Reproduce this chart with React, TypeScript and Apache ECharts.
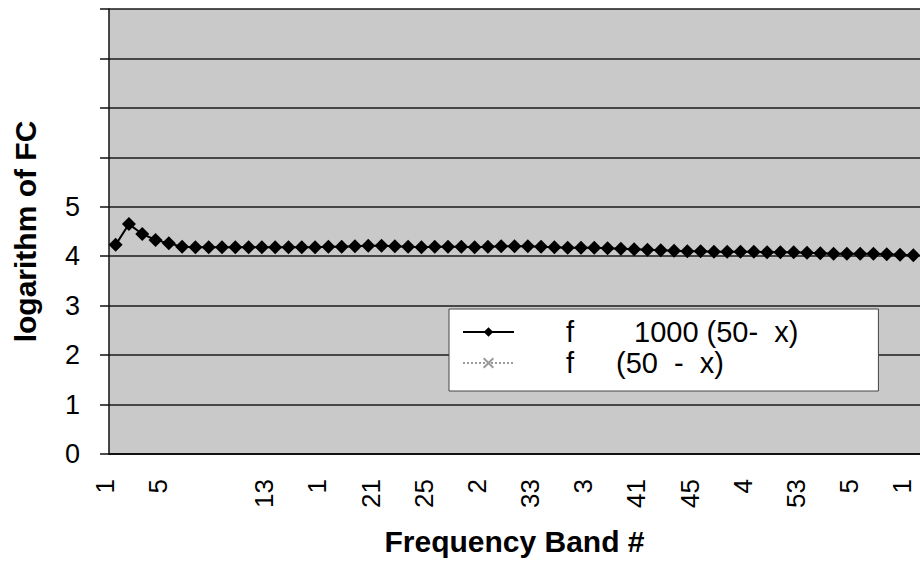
import { useEffect, useRef } from "react";
import * as echarts from "echarts";

// ---- data ----
const CATEGORIES: string[] = Array.from({ length: 61 }, (_, i) => String(i + 1));
// tick texts as they appear (every 4th band)
const TICK_TEXT: string[] = ["1", "5", "", "13", "1", "21", "25", "2", "33", "3", "41", "45", "4", "53", "5", "1"];
const Y_LABELS: string[] = ["0", "1", "2", "3", "4", "5"];

const LEGEND_F: string[] = ["f", "f"];
const LEGEND_EXPR: string[] = ["1000 (50-  x)", "(50  -  x)"];
const SERIES_NAMES: string[] = ["f 1000 (50-  x)", "f (50  -  x)"];

const SERIES_1000: number[] = [
  4.23, 4.65, 4.45, 4.33, 4.26, 4.19, 4.18, 4.18, 4.18, 4.18,
  4.18, 4.18, 4.18, 4.18, 4.18, 4.18, 4.19, 4.19, 4.2, 4.21,
  4.21, 4.2, 4.19, 4.18, 4.19, 4.19, 4.19, 4.18, 4.19, 4.2,
  4.2, 4.2, 4.19, 4.18, 4.17, 4.17, 4.17, 4.16, 4.15, 4.14,
  4.13, 4.12, 4.11, 4.1, 4.1, 4.09, 4.09, 4.09, 4.09, 4.08,
  4.08, 4.08, 4.07, 4.06, 4.05, 4.05, 4.05, 4.05, 4.04, 4.03,
  4.02,
];
const SERIES_PLAIN: (number | null)[] = [];

const FONT = "'Liberation Sans', Arial, sans-serif";

export default function App() {
  const ref = useRef<HTMLDivElement>(null);
  useEffect(() => {
    if (!ref.current) return;
    const chart = echarts.init(ref.current, null, { renderer: "svg" });
    chart.setOption({
      animation: false,
      backgroundColor: "#ffffff",
      textStyle: { fontFamily: FONT, color: "#000" },
      grid: {
        left: 109,
        top: 9,
        width: 817,
        height: 445,
        show: true,
        backgroundColor: "#c9c9c9",
        borderWidth: 0,
      },
      legend: {
        orient: "vertical",
        left: 449,
        top: 309,
        padding: [7.5, 80, 12.5, 13],
        backgroundColor: "#ffffff",
        borderColor: "#444",
        borderWidth: 1,
        itemWidth: 51,
        itemHeight: 12,
        itemGap: 0,
        data: SERIES_NAMES,
        formatter: (name: string) => {
          const i = SERIES_NAMES.indexOf(name);
          return `{f${i}|${LEGEND_F[i]}}{e|${LEGEND_EXPR[i]}}`;
        },
        textStyle: {
          fontFamily: FONT,
          fontSize: 29,
          lineHeight: 31,
          color: "#000",
          rich: {
            f0: { fontSize: 29, lineHeight: 31, width: 68, padding: [0, 0, 0, 47], fontFamily: FONT },
            f1: { fontSize: 29, lineHeight: 31, width: 50, padding: [0, 0, 0, 47], fontFamily: FONT },
            e: { fontSize: 29, lineHeight: 31, fontFamily: FONT },
          },
        },
      },
      xAxis: {
        type: "category",
        data: CATEGORIES,
        boundaryGap: true,
        name: "Frequency Band #",
        nameLocation: "middle",
        nameGap: 72,
        nameTextStyle: { fontFamily: FONT, fontSize: 30, fontWeight: "bold", color: "#000" },
        axisLine: { show: true, lineStyle: { color: "#111", width: 2 } },
        axisTick: { show: false },
        splitLine: { show: false },
        axisLabel: {
          interval: 3,
          rotate: 90,
          margin: 25,
          fontFamily: FONT,
          fontSize: 26,
          color: "#000",
          verticalAlign: "bottom",
          lineHeight: 22,
          formatter: (_v: string, idx: number) => {
            const t = TICK_TEXT[Math.round(idx / 4)];
            return t ?? "";
          },
        },
      },
      yAxis: {
        type: "value",
        min: 0,
        max: 9,
        interval: 1,
        name: "logarithm of FC",
        nameLocation: "middle",
        nameGap: 69,
        nameRotate: 90,
        nameTextStyle: { fontFamily: FONT, fontSize: 30, fontWeight: "bold", color: "#000" },
        axisLine: { show: true, lineStyle: { color: "#111", width: 1.5 } },
        axisTick: { show: true, length: 9, lineStyle: { color: "#111", width: 1.5 } },
        splitLine: { show: true, lineStyle: { color: "#1a1a1a", width: 1.5 } },
        axisLabel: {
          margin: 29,
          fontFamily: FONT,
          fontSize: 27,
          color: "#000",
          padding: [0, 0, 6, 0],
          formatter: (v: number) => (v < Y_LABELS.length ? Y_LABELS[v] : ""),
        },
      },
      series: [
        {
          name: SERIES_NAMES[0],
          type: "line",
          data: SERIES_1000,
          symbol: "diamond",
          symbolSize: 14,
          showAllSymbol: true,
          lineStyle: { color: "#000", width: 2 },
          itemStyle: { color: "#000" },
        },
        {
          name: SERIES_NAMES[1],
          type: "line",
          data: SERIES_PLAIN,
          symbol: "path://M0,0L10,10M10,0L0,10",
          symbolSize: 8,
          lineStyle: { color: "#9a9a9a", width: 1.5, type: "dotted" },
          itemStyle: { color: "transparent", borderColor: "#9a9a9a", borderWidth: 1 },
        },
      ],
    });
    return () => chart.dispose();
  }, []);
  return (
    <div
      ref={ref}
      style={{ position: "absolute", left: 0, top: 0, width: 920, height: 565, background: "#fff" }}
    />
  );
}
